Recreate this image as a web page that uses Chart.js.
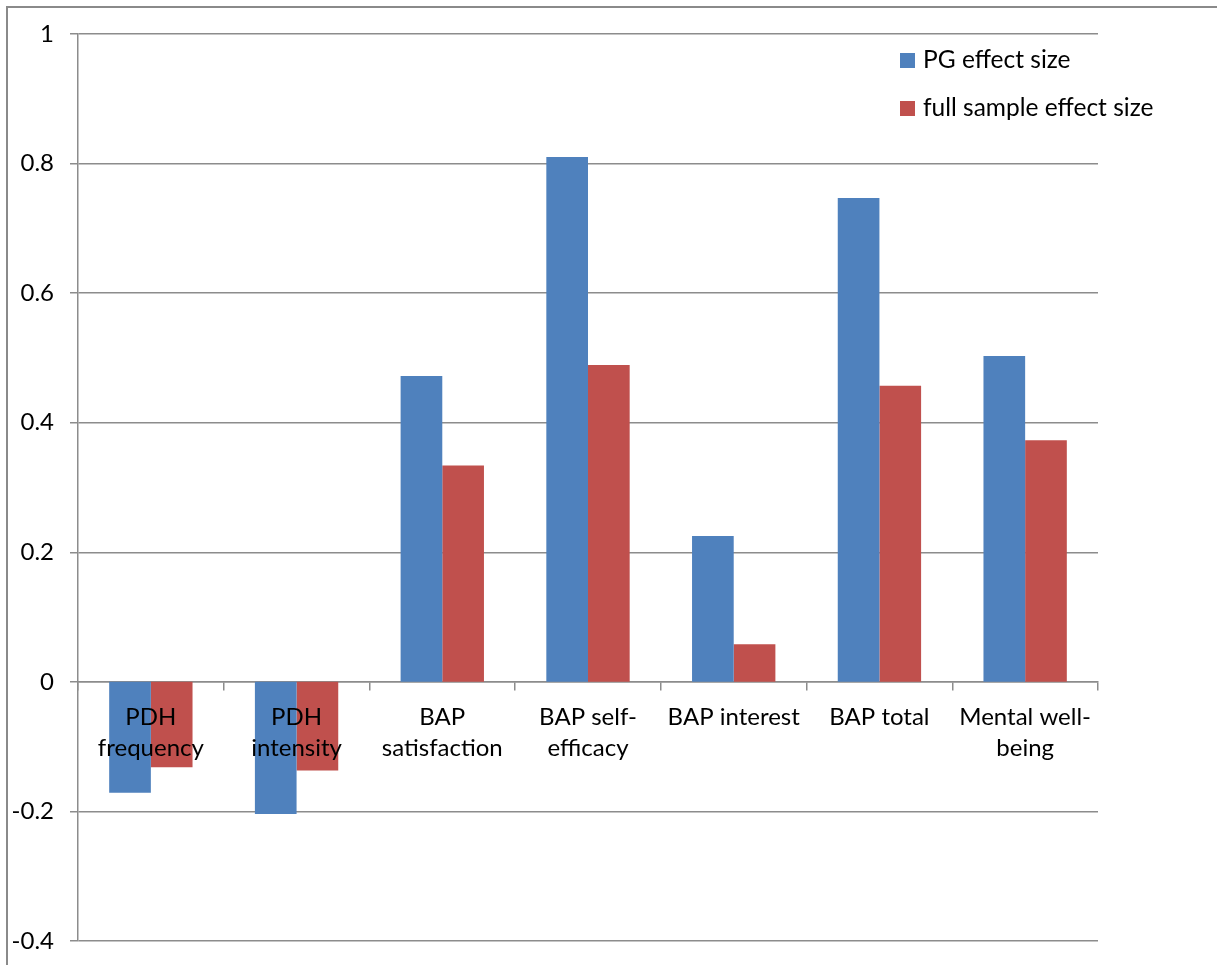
<!DOCTYPE html>
<html>
<head>
<meta charset="utf-8">
<script src="https://cdn.jsdelivr.net/npm/chart.js@4.4.0/dist/chart.umd.min.js"></script>
<style>
  html, body { margin: 0; padding: 0; background: #fff; overflow: hidden; }
  #frame { position: absolute; left: 6px; top: 6px; width: 1240px; height: 1000px;
           border-left: 2px solid #8a8a8a; border-top: 2px solid #8a8a8a; }
  #chart { position: absolute; left: 0; top: 0; }
</style>
</head>
<body>
<div id="frame"></div>
<canvas id="chart" width="1217" height="965"></canvas>
<script>
const categories = [
    ['PDH', 'frequency'],
    ['PDH', 'intensity'],
    ['BAP', 'satisfaction'],
    ['BAP self-', 'efficacy'],
    'BAP interest',
    'BAP total',
    ['Mental well-', 'being']
];
const pgEffect = [-0.171, -0.204, 0.472, 0.810, 0.225, 0.747, 0.503];
const fullEffect = [-0.132, -0.137, 0.334, 0.489, 0.058, 0.457, 0.373];
const yTicks = { min: -0.4, max: 1, step: 0.2 };

const gridColor = '#8c8c8c';
const fontFamily = 'Lato, "Open Sans", sans-serif';

// legend drawn inside the plot, top right
const insideLegend = {
    id: 'insideLegend',
    afterDraw(chart) {
        const ctx = chart.ctx;
        ctx.save();
        ctx.font = '24.5px ' + fontFamily;
        ctx.textBaseline = 'middle';
        chart.data.datasets.forEach((ds, i) => {
            const y = 60 + i * 48;
            ctx.fillStyle = ds.backgroundColor;
            ctx.fillRect(900, y - 7, 15, 15);
            ctx.fillStyle = '#000';
            ctx.fillText(ds.label, 923, y);
        });
        ctx.restore();
    }
};

// keep the plot area where the layout padding puts it
const noScalePadding = (scale) => {
    scale.paddingTop = 0;
    scale.paddingBottom = 0;
};

new Chart(document.getElementById('chart').getContext('2d'), {
    type: 'bar',
    data: {
        labels: categories,
        datasets: [{
            label: 'PG effect size',
            data: pgEffect,
            backgroundColor: '#4F81BD',
            categoryPercentage: 0.572,
            barPercentage: 1
        }, {
            label: 'full sample effect size',
            data: fullEffect,
            backgroundColor: '#C0504D',
            categoryPercentage: 0.572,
            barPercentage: 1
        }]
    },
    options: {
        responsive: false,
        animation: false,
        layout: { padding: { top: 34, right: 119, bottom: 24, left: 0 } },
        plugins: {
            legend: { display: false },
            tooltip: { enabled: false }
        },
        scales: {
            x: {
                position: { y: 0 },
                afterFit: (scale) => {
                    scale.height = 0;
                    noScalePadding(scale);
                },
                grid: {
                    offset: true,
                    drawOnChartArea: false,
                    drawTicks: true,
                    tickLength: 8,
                    color: gridColor,
                    lineWidth: 1.5
                },
                border: { display: true, color: gridColor, width: 1.5 },
                ticks: {
                    z: 1,
                    color: '#000',
                    font: { family: fontFamily, size: 24, lineHeight: 1.3 },
                    padding: 12,
                    maxRotation: 0,
                    autoSkip: false
                }
            },
            y: {
                min: yTicks.min,
                max: yTicks.max,
                afterFit: (scale) => {
                    scale.width = 78;
                    noScalePadding(scale);
                },
                grid: {
                    color: gridColor,
                    lineWidth: 1.5,
                    tickLength: 8
                },
                border: { display: true, color: gridColor, width: 1.5 },
                ticks: {
                    stepSize: yTicks.step,
                    color: '#000',
                    padding: 16,
                    font: { family: fontFamily, size: 24 },
                    callback: (v) => String(Math.round(v * 10) / 10)
                }
            }
        }
    },
    plugins: [insideLegend]
});
</script>
</body>
</html>
